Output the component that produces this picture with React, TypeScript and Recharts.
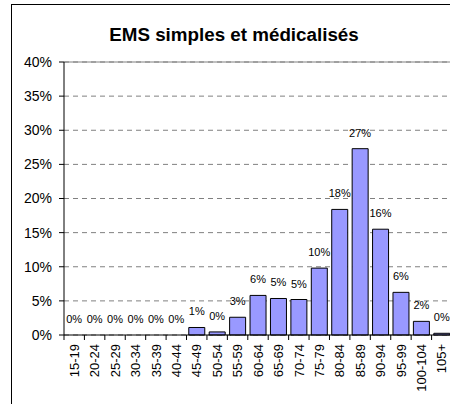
import { ComposedChart, Bar, Line, XAxis, YAxis, CartesianGrid, LabelList, ReferenceLine } from 'recharts'

const ages = ['15-19', '20-24', '25-29', '30-34', '35-39', '40-44', '45-49', '50-54', '55-59', '60-64', '65-69', '70-74', '75-79', '80-84', '85-89', '90-94', '95-99', '100-104', '105+']
const shares = [0, 0, 0, 0, 0, 0, 1.1, 0.45, 2.6, 5.8, 5.35, 5.2, 9.8, 18.4, 27.3, 15.5, 6.25, 2.0, 0.25]
const yTicks = [0, 5, 10, 15, 20, 25, 30, 35, 40]

const data = ages.map((age, i) => ({ age, share: shares[i] }))

const FONT = '"Liberation Sans", Arial, sans-serif'
const W = 460
const H = 404
const MARGIN = { top: 62, right: 8, bottom: 0, left: 0 }
const Y_W = 64
const BAND = (W - MARGIN.left - MARGIN.right - Y_W) / ages.length
const TICK_SIZE = 5
const TICK_MARGIN = 4

// category ticks sit on the boundaries between bars, labels in the middle
function AgeTick(props: any) {
  const { x, y, payload, index } = props
  const top = y - TICK_MARGIN - TICK_SIZE
  const bottom = y - TICK_MARGIN
  return (
    <g>
      <line x1={x - BAND / 2} x2={x - BAND / 2} y1={top} y2={bottom} stroke="#000" />
      {index === ages.length - 1 && (
        <line x1={x + BAND / 2} x2={x + BAND / 2} y1={top} y2={bottom} stroke="#000" />
      )}
      <g transform={`translate(${x},${y})`}>
        <text transform="rotate(-90)" textAnchor="end" dy="0.36em" fontSize={13} fontFamily={FONT} fill="#000">
          {payload.value}
        </text>
      </g>
    </g>
  )
}

export default function App() {
  return (
    <div style={{ position: 'absolute', left: 0, top: 0, width: 450, height: 404, overflow: 'hidden', background: '#fff' }}>
      <svg width={450} height={404} style={{ position: 'absolute', left: 0, top: 0 }}>
        <rect x={11.5} y={4.5} width={500} height={500} fill="none" stroke="#000" />
        <text x={234} y={40.7} textAnchor="middle" fontSize={18.8} fontWeight="bold" fontFamily={FONT} fill="#000">
          EMS simples et médicalisés
        </text>
      </svg>
      <div style={{ position: 'absolute', left: 0, top: 0 }}>
        <ComposedChart width={W} height={H} data={data} margin={MARGIN} barCategoryGap="11%">
          <CartesianGrid vertical={false} stroke="#808080" strokeDasharray="5 4" />
          <ReferenceLine y={40} stroke="#808080" />
          <XAxis
            dataKey="age"
            interval={0}
            height={69}
            tickLine={false}
            tickSize={TICK_SIZE}
            tickMargin={TICK_MARGIN}
            axisLine={{ stroke: '#000' }}
            tick={<AgeTick />}
          />
          <YAxis
            width={Y_W}
            domain={[0, 40]}
            ticks={yTicks}
            interval={0}
            tickSize={5}
            tickMargin={7}
            tickFormatter={(v) => `${v}%`}
            axisLine={{ stroke: '#000' }}
            tickLine={{ stroke: '#000' }}
            tick={{ fontSize: 14, fontFamily: FONT, fill: '#000' }}
          />
          <Bar dataKey="share" fill="#9999ff" stroke="#000" strokeWidth={1} isAnimationActive={false} />
          {/* invisible line only carries the labels, so the 0% bars get one too */}
          <Line dataKey="share" stroke="none" dot={false} activeDot={false} isAnimationActive={false}>
            <LabelList
              dataKey="share"
              position="top"
              offset={12}
              fill="#000"
              fontSize={11}
              fontFamily={FONT}
              formatter={(v: any) => `${Math.round(Number(v))}%`}
            />
          </Line>
        </ComposedChart>
      </div>
    </div>
  )
}
